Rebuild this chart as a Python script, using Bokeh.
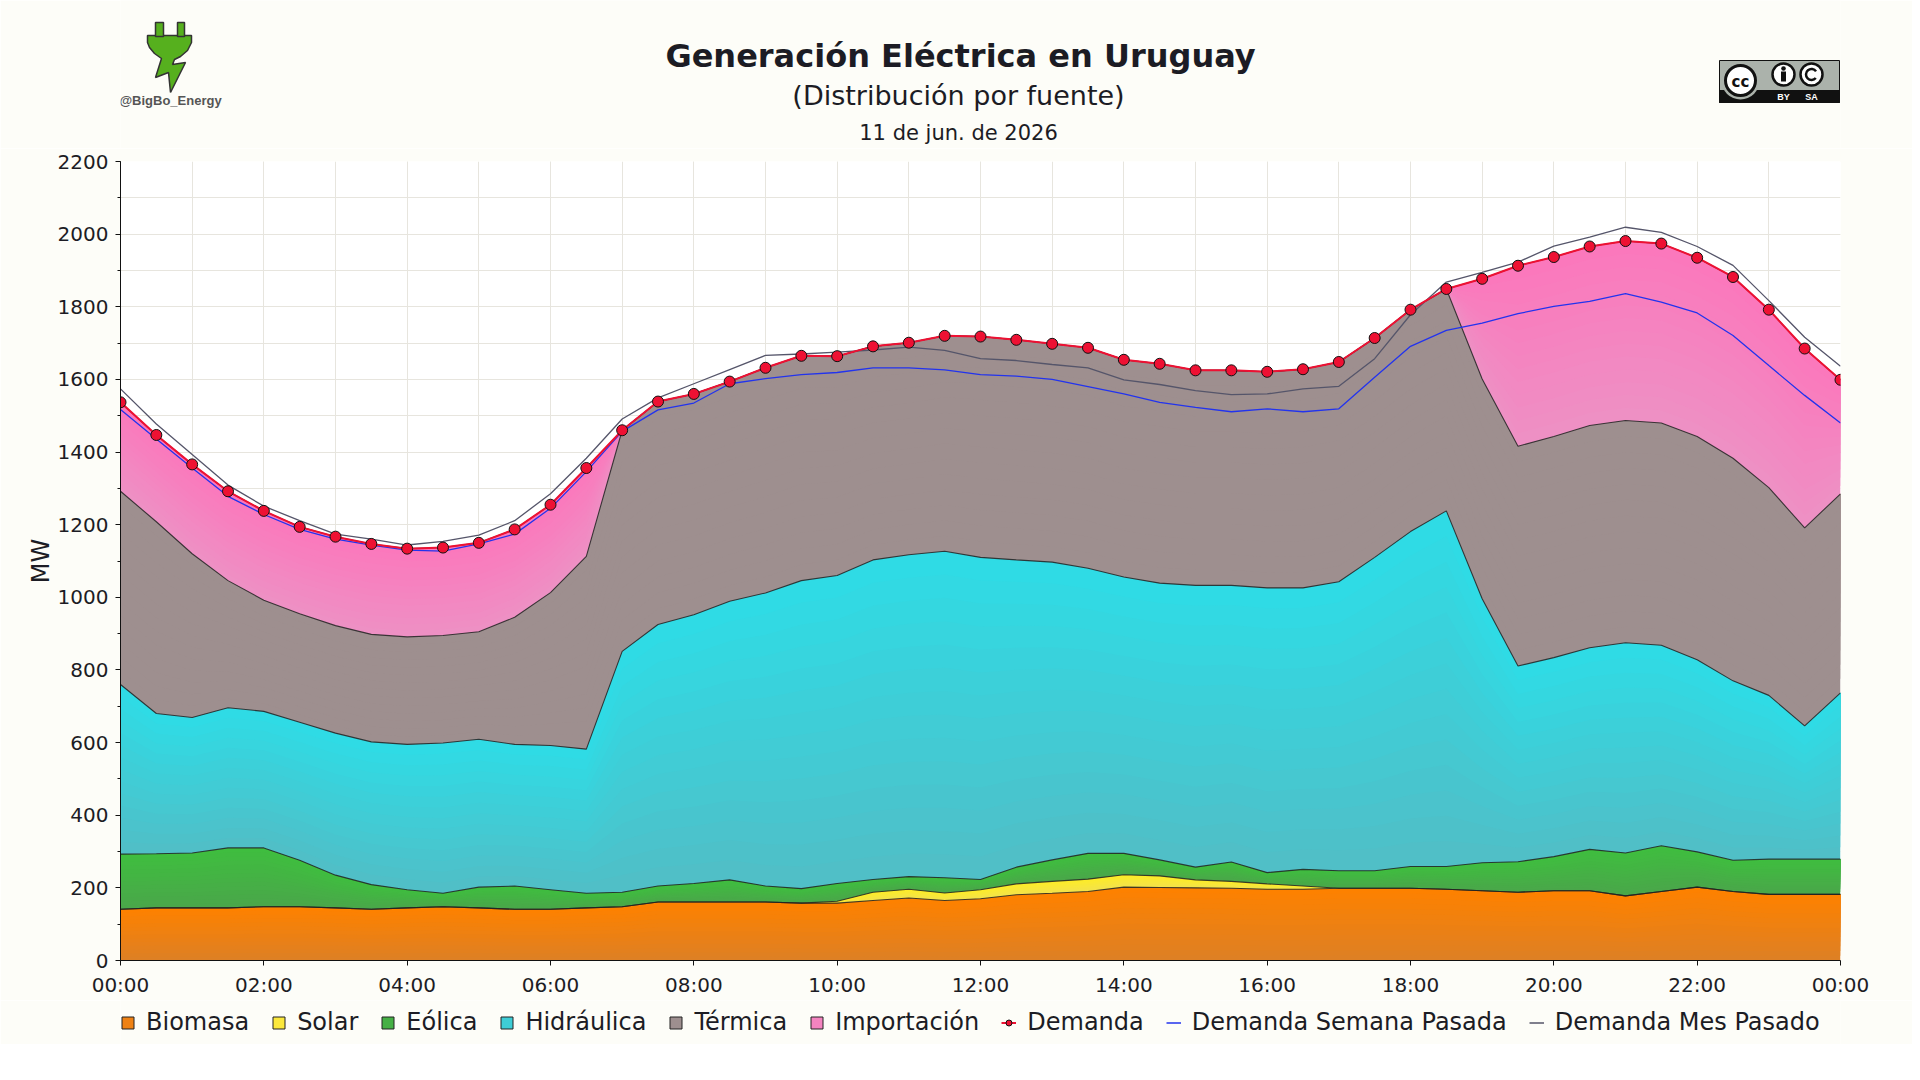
import numpy as np
from bokeh.plotting import figure
from bokeh.models import Range1d, FixedTicker, Legend, LegendItem
from bokeh.layouts import column
from bokeh.embed import file_html
from bokeh.resources import INLINE
from bokeh.core.properties import value

# ---------------- data (MW, every 30 minutes) ----------------
times = ["00:00", "00:30", "01:00", "01:30", "02:00", "02:30", "03:00", "03:30",
         "04:00", "04:30", "05:00", "05:30", "06:00", "06:30", "07:00", "07:30",
         "08:00", "08:30", "09:00", "09:30", "10:00", "10:30", "11:00", "11:30",
         "12:00", "12:30", "13:00", "13:30", "14:00", "14:30", "15:00", "15:30",
         "16:00", "16:30", "17:00", "17:30", "18:00", "18:30", "19:00", "19:30",
         "20:00", "20:30", "21:00", "21:30", "22:00", "22:30", "23:00", "23:30",
         "24:00"]

biomasa = [141, 145, 145, 145, 148, 148, 145, 141, 145, 148, 145, 141, 141, 145, 148, 161,
           161, 161, 161, 158, 158, 165, 172, 165, 170, 181, 185, 190, 202, 201, 200, 199,
           196, 196, 199, 199, 199, 196, 192, 188, 192, 192, 178, 190, 202, 190, 182, 182,
           182]
solar = [0, 0, 0, 0, 0, 0, 0, 0, 0, 0, 0, 0, 0, 0, 0, 0,
         0, 0, 0, 0, 5, 23, 24, 21, 25, 30, 33, 34, 34, 32, 22, 19,
         15, 9, 0, 0, 0, 0, 0, 0, 0, 0, 0, 0, 0, 0, 0, 0,
         0]
eolica = [152, 149, 151, 165, 162, 128, 90, 68, 50, 37, 57, 64, 54, 40, 40, 44,
          51, 61, 44, 40, 49, 35, 35, 42, 28, 46, 59, 71, 59, 44, 35, 53,
          31, 46, 48, 48, 60, 63, 77, 84, 94, 114, 118, 126, 97, 86, 97, 97,
          97]
hidraulica = [467, 386, 373, 386, 376, 380, 391, 393, 400, 414, 407, 390, 397, 397, 663, 720,
              740, 767, 807, 848, 848, 880, 886, 899, 887, 846, 820, 785, 761, 762, 776, 762,
              784, 775, 796, 863, 922, 979, 727, 539, 548, 555, 579, 552, 529, 494, 451, 367,
              458]
termica = [532, 528, 451, 350, 306, 299, 296, 296, 296, 296, 296, 350, 421, 531, 609, 614,
           608, 605, 620, 619, 604, 588, 584, 593, 608, 606, 601, 607, 598, 604, 592, 592,
           595, 602, 605, 604, 611, 611, 605, 605, 609, 612, 612, 612, 615, 613, 572, 545,
           548]
importacion = [245, 239, 246, 246, 246, 239, 245, 249, 243, 242, 245, 242, 242, 243, 0, 0,
               0, 0, 0, 0, 0, 0, 0, 0, 0, 0, 0, 0, 0, 0, 0, 0,
               0, 0, 0, 0, 0, 0, 276, 497, 494, 493, 494, 494, 492, 499, 490, 494,
               314]
demanda = [1537, 1447, 1366, 1292, 1238, 1194, 1167, 1147, 1134, 1137, 1150, 1187, 1255, 1356, 1460, 1539,
           1560, 1594, 1632, 1665, 1664, 1691, 1701, 1720, 1718, 1709, 1698, 1687, 1654, 1643, 1625, 1625,
           1621, 1628, 1648, 1714, 1792, 1849, 1877, 1913, 1937, 1966, 1981, 1974, 1935, 1882, 1792, 1685,
           1599]
semana_pasada = [1517, 1436, 1356, 1278, 1228, 1187, 1160, 1144, 1130, 1127, 1147, 1174, 1245, 1346, 1457, 1516,
                 1535, 1588, 1602, 1613, 1619, 1632, 1632, 1626, 1613, 1609, 1600, 1580, 1560, 1537, 1523, 1511,
                 1519, 1511, 1519, 1606, 1691, 1735, 1755, 1781, 1801, 1815, 1836, 1813, 1783, 1721, 1638, 1556,
                 1480]
mes_pasado = [1574, 1477, 1393, 1309, 1251, 1211, 1174, 1160, 1144, 1154, 1171, 1211, 1285, 1383, 1491, 1549,
              1588, 1627, 1666, 1670, 1675, 1681, 1689, 1680, 1657, 1652, 1641, 1632, 1599, 1586, 1569, 1558,
              1560, 1574, 1581, 1657, 1778, 1868, 1895, 1923, 1967, 1992, 2019, 2005, 1966, 1914, 1817, 1716,
              1636]

tick_hours = [0, 2, 4, 6, 8, 10, 12, 14, 16, 18, 20, 22, 24]
tick_labels = ["00:00", "02:00", "04:00", "06:00", "08:00", "10:00", "12:00",
               "14:00", "16:00", "18:00", "20:00", "22:00", "00:00"]

fuentes = ["Biomasa", "Solar", "Eólica", "Hidráulica", "Térmica", "Importación"]
colores = ["#ee8114", "#fbe83c", "#45b045", "#3ecdd6", "#9e8f8f", "#f484c0"]
# gradient (bottom colour, top colour) of each area
grad_bottom = ["#de8024", "#f3e24c", "#4aa74a", "#50bfc7", "#9e8f8f", "#ee90c4"]
grad_top = ["#fd8100", "#fdec28", "#3fbd3f", "#2fdbe5", "#9e8f8f", "#fb78bc"]
series = [biomasa, solar, eolica, hidraulica, termica, importacion]

# ---------------- helpers ----------------
x = [int(t[:2]) + int(t[3:]) / 60.0 for t in times]
FONT = "DejaVu Sans"
BG = "#fdfdf8"
GRID = "#e7e5de"
FIG_W = 1912
LEFT, RIGHT = 120, 1840          # page x of plot frame
HDR_H = 148
C_MES, C_SEM, C_DEM = "#55556a", "#2233ee", "#ee1133"
N_BANDS = 14


def mix(c1, c2, t):
    a = [int(c1[i:i + 2], 16) for i in (1, 3, 5)]
    b = [int(c2[i:i + 2], 16) for i in (1, 3, 5)]
    return "#%02x%02x%02x" % tuple(int(round(a[k] + (b[k] - a[k]) * t)) for k in range(3))


# ---------------- header figure (coordinates = page pixels) ----------------
hdr = figure(width=FIG_W, height=HDR_H, x_range=Range1d(LEFT, RIGHT), y_range=Range1d(HDR_H, 0),
             output_backend="svg", toolbar_location=None, x_axis_type=None, y_axis_type=None,
             min_border_left=LEFT, min_border_right=FIG_W - RIGHT, min_border_top=0,
             min_border_bottom=0, outline_line_color=None,
             background_fill_color=BG, border_fill_color=BG)
hdr.grid.visible = False

hdr.text(x=[960], y=[55], text=["Generación Eléctrica en Uruguay"],
         text_font=value(FONT), text_font_style="bold", text_font_size="32px",
         text_align="center", text_baseline="middle", text_color="#1c1c24")
hdr.text(x=[958], y=[95], text=["(Distribución por fuente)"],
         text_font=value(FONT), text_font_size="27px",
         text_align="center", text_baseline="middle", text_color="#1c1c24")
hdr.text(x=[958], y=[132], text=["11 de jun. de 2026"],
         text_font=value(FONT), text_font_size="21px",
         text_align="center", text_baseline="middle", text_color="#1c1c24")

# logo (plug)
plug_x = [147, 191, 191, 187, 180, 174, 172, 185, 170, 168, 155, 161, 154, 149, 147]
plug_y = [35, 35, 42, 50, 56, 59, 64, 62, 92, 72, 77, 58, 53, 47, 42]
hdr.patch(plug_x, plug_y, fill_color="#56b01e", line_color="#333333", line_width=1.5)
hdr.quad(left=[155, 177], right=[163, 184], top=[22, 22], bottom=[36, 36],
         fill_color="#56b01e", line_color="#333333", line_width=1.5)
hdr.text(x=[170], y=[100], text=["@BigBo_Energy"], text_font=value("Liberation Sans"),
         text_font_style="bold", text_font_size="13px", text_align="center",
         text_baseline="middle", text_color="#555555")

# CC BY-SA badge
hdr.quad(left=[1719], right=[1839], top=[60], bottom=[102],
         fill_color="#abb2ab", line_color="#111111", line_width=1)
hdr.quad(left=[1719], right=[1839], top=[90], bottom=[102],
         fill_color="#111111", line_color="#111111", line_width=1)
hdr.circle(x=[1740], y=[80], radius=19, fill_color="#abb2ab", line_color=None)
hdr.circle(x=[1740], y=[80], radius=15, fill_color="white", line_color="#111111", line_width=3)
hdr.text(x=[1740], y=[81], text=["cc"], text_font=value(FONT), text_font_style="bold",
         text_font_size="15px", text_align="center", text_baseline="middle", text_color="#111111")
hdr.circle(x=[1783, 1811], y=[74, 74], radius=11, fill_color="white",
           line_color="#111111", line_width=2.5)
hdr.circle(x=[1783], y=[68], radius=2.3, fill_color="#111111", line_color=None)
hdr.quad(left=[1780.5], right=[1785.5], top=[71], bottom=[81], fill_color="#111111", line_color=None)
hdr.arc(x=[1811], y=[74], radius=5.5, start_angle=0.6, end_angle=5.6,
        line_color="#111111", line_width=2.5)
hdr.text(x=[1783, 1811], y=[96, 96], text=["BY", "SA"], text_font=value("Liberation Sans"),
         text_font_style="bold", text_font_size="9px", text_align="center",
         text_baseline="middle", text_color="white")

# ---------------- main figure ----------------
TOP_B = 13
FRAME_H = 799
BOT_B = 40
p = figure(width=FIG_W, height=TOP_B + FRAME_H + BOT_B, x_range=Range1d(0, 24), y_range=Range1d(0, 2200),
           output_backend="svg", toolbar_location=None,
           min_border_left=LEFT, min_border_right=FIG_W - RIGHT, min_border_top=TOP_B,
           min_border_bottom=BOT_B,
           background_fill_color="white", border_fill_color=BG, outline_line_color=None)

cum = np.zeros(len(x))
edges = []
for vals, cb, ct in zip(series, grad_bottom, grad_top):
    thick = np.array(vals, dtype=float)
    top = cum + thick
    for k in range(N_BANDS):
        lo = cum + thick * k / N_BANDS
        p.varea(x=x, y1=lo, y2=top, fill_color=mix(cb, ct, k / (N_BANDS - 1)))
    edges.append(top)
    cum = top
for top in edges:
    p.line(x, top, line_color="#222222", line_width=1.1, line_alpha=0.85)

p.line(x, mes_pasado, line_color=C_MES, line_width=1.3)
p.line(x, semana_pasada, line_color=C_SEM, line_width=1.3)
p.line(x, demanda, line_color=C_DEM, line_width=2)
p.scatter(x, demanda, size=11, fill_color=C_DEM, line_color="#111111", line_width=1)

# axes
p.xaxis.ticker = FixedTicker(ticks=tick_hours, minor_ticks=list(range(25)))
p.xaxis.major_label_overrides = {h: lab for h, lab in zip(tick_hours, tick_labels)}
p.yaxis.ticker = FixedTicker(ticks=list(range(0, 2201, 200)), minor_ticks=list(range(0, 2201, 100)))
for ax in (p.xaxis, p.yaxis):
    ax.major_label_text_font = FONT
    ax.major_label_text_font_size = "20px"
    ax.major_label_text_color = "#1c1c24"
    ax.axis_line_color = "#111111"
    ax.major_tick_line_color = "#111111"
    ax.major_tick_in = 0
    ax.major_tick_out = 5
    ax.major_label_standoff = 7
p.xaxis.minor_tick_line_color = None
p.yaxis.minor_tick_in = 0
p.yaxis.minor_tick_out = 3
p.yaxis.minor_tick_line_color = "#111111"
p.yaxis.axis_label = "MW"
p.yaxis.axis_label_text_font = FONT
p.yaxis.axis_label_text_font_size = "24px"
p.yaxis.axis_label_text_font_style = "normal"
p.yaxis.axis_label_text_color = "#1c1c24"
p.yaxis.axis_label_standoff = 0

p.xgrid.grid_line_color = GRID
p.ygrid.grid_line_color = GRID
p.xgrid.minor_grid_line_color = GRID
p.ygrid.minor_grid_line_color = GRID

# ---------------- legend figure ----------------
lg = figure(width=FIG_W, height=44, x_range=Range1d(0, 1), y_range=Range1d(0, 1),
            output_backend="svg", toolbar_location=None, x_axis_type=None, y_axis_type=None,
            min_border_left=LEFT, min_border_right=FIG_W - RIGHT, min_border_top=0,
            min_border_bottom=0, outline_line_color=None,
            background_fill_color=BG, border_fill_color=BG)
lg.grid.visible = False
items = []
for name, col in zip(fuentes, colores):
    r = lg.patch(x=[np.nan], y=[np.nan], fill_color=col, line_color="#222222", line_width=1)
    items.append(LegendItem(label=name, renderers=[r]))
rl = lg.line(x=[np.nan], y=[np.nan], line_color=C_DEM, line_width=2)
rm = lg.scatter(x=[np.nan], y=[np.nan], size=10, fill_color=C_DEM, line_color="#111111", line_width=1)
items.append(LegendItem(label="Demanda", renderers=[rl, rm]))
rs = lg.line(x=[np.nan], y=[np.nan], line_color=C_SEM, line_width=1.5)
items.append(LegendItem(label="Demanda Semana Pasada", renderers=[rs]))
rmes = lg.line(x=[np.nan], y=[np.nan], line_color=C_MES, line_width=1.5)
items.append(LegendItem(label="Demanda Mes Pasado", renderers=[rmes]))

legend = Legend(items=items, orientation="horizontal", location="left",
                label_text_font=FONT, label_text_font_size="24px", label_text_color="#1c1c24",
                glyph_width=15, glyph_height=15, label_standoff=11, spacing=22,
                padding=0, margin=0, border_line_color=None, background_fill_alpha=0)
lg.add_layout(legend, "center")

layout = column(hdr, p, lg, spacing=0)
open("out.html", "w").write(file_html(layout, INLINE))
